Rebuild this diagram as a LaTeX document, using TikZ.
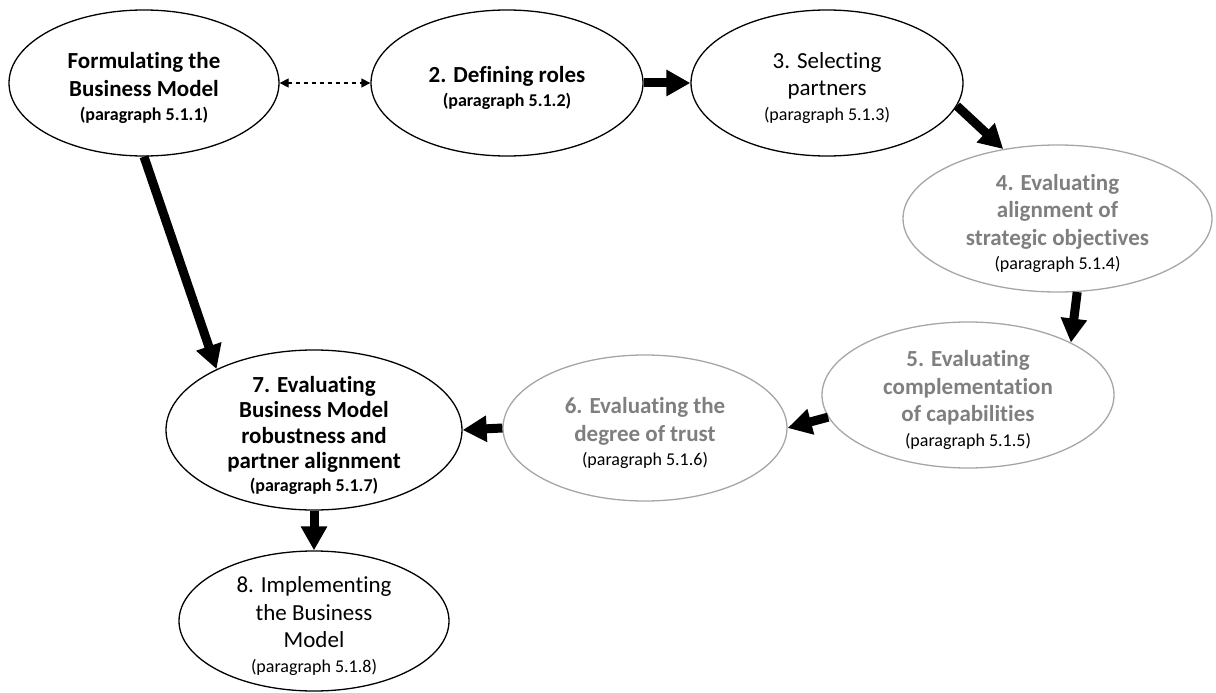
\documentclass[tikz,border=0pt]{standalone}
\usepackage{fontspec}
\setmainfont{Carlito}[Ligatures={NoCommon}]
\usetikzlibrary{shapes.geometric,arrows.meta}

\definecolor{softgray}{RGB}{127,127,127}
\definecolor{rimgray}{RGB}{166,166,166}

% reference line under each stage title (keeps the title's weight)
\newcommand{\paraline}[1]{\\[-3pt]{\fontsize{18}{18}\selectfont\color{black}(paragraph 5.1.#1)}}
% same, always in the regular weight
\newcommand{\plainparaline}[1]{\\[-3pt]{\fontsize{18}{18}\selectfont\mdseries\color{black}(paragraph 5.1.#1)}}

\begin{document}
\begin{tikzpicture}[x=1pt,y=-1pt,
  stage/.style={ellipse, draw=black, line width=1.3pt, inner sep=0pt},
  faded/.style={draw=rimgray},
  caption/.style={align=center, text=black, yshift=-5pt,
                  font=\fontsize{23}{27.5}\selectfont},
  captionbold/.style={caption, font=\fontsize{23}{27.5}\selectfont\bfseries},
  captiongray/.style={caption, text=softgray, font=\fontsize{23}{27.5}\selectfont\bfseries},
  flow/.style={line width=9pt, -{Triangle[width=25pt,length=24pt]}},
  dashlink/.style={line width=1.3pt, dash pattern=on 4pt off 4pt,
                   {Triangle[width=9pt,length=9pt]}-{Triangle[width=9pt,length=9pt]}}
]
\path[use as bounding box] (0,0) rectangle (1216,693);

% stages of the procedure
\node[stage, minimum width=270pt, minimum height=146pt,
  label={[captionbold]center:{Formulating the\\Business Model\paraline{1}}}] (n1) at (144,83) {};
\node[stage, minimum width=272pt, minimum height=146pt,
  label={[captionbold]center:{2. Defining roles\paraline{2}}}] (n2) at (507,83) {};
\node[stage, minimum width=272pt, minimum height=146pt,
  label={[caption]center:{3. Selecting\\partners\paraline{3}}}] (n3) at (827,83) {};
\node[stage, faded, minimum width=309pt, minimum height=147pt,
  label={[captiongray]center:{4. Evaluating\\alignment of\\strategic objectives\plainparaline{4}}}] (n4) at (1057.5,218.5) {};
\node[stage, faded, minimum width=292pt, minimum height=146pt,
  label={[captiongray]center:{5. Evaluating\\complementation\\of capabilities\plainparaline{5}}}] (n5) at (968,395) {};
\node[stage, faded, minimum width=284pt, minimum height=146pt,
  label={[captiongray]center:{6. Evaluating the\\degree of trust\plainparaline{6}}}] (n6) at (645,428) {};
\node[stage, minimum width=296pt, minimum height=160pt,
  label={[captionbold, font=\fontsize{23}{25.5}\selectfont\bfseries]center:{7. Evaluating\\Business Model\\robustness and\\partner alignment\paraline{7}}}] (n7) at (314,430) {};
\node[stage, minimum width=270pt, minimum height=140pt,
  label={[caption]center:{8. Implementing\\the Business\\Model\paraline{8}}}] (n8) at (314,621) {};

% connectors
\draw[dashlink] (n1.east) -- (n2.west);
\draw[flow] (n2.east) -- (n3.west);
\draw[flow] (n3.-10) -- (n4.128);
\draw[flow] (n4.-75) -- (n5.27);
\draw[flow] (n5.189) -- (n6.east);
\draw[flow] (n6.west) -- (n7.east);
\draw[flow] (n1.south) -- (n7.148);
\draw[flow] (n7.south) -- (n8.north);
\end{tikzpicture}
\end{document}
